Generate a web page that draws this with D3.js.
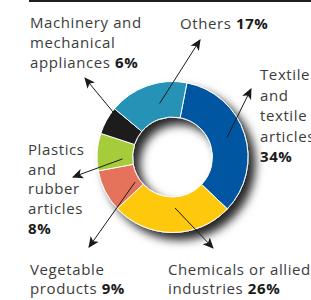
<!DOCTYPE html>
<html>
<head>
<meta charset="utf-8">
<script src="https://cdn.jsdelivr.net/npm/d3@7"></script>
<style>
  body { margin: 0; background: #fff; }
  svg { display: block; font-family: "Open Sans", sans-serif; }
</style>
</head>
<body>
<svg id="chart" width="311" height="300"></svg>
<script>
// Exports by product group, share in percent (clockwise from ~11° past top)
const categories = ["Textile and textile articles", "Chemicals or allied industries", "Vegetable products",
                    "Plastics and rubber articles", "Machinery and mechanical appliances", "Others"];
const shares = [34, 26, 9, 8, 6, 17];
const colors = ["#0256a0", "#fec80f", "#e5735c", "#a6cb3a", "#1e1c1d", "#2792b5"];

// label text lines; null = percent on its own line
const labelLines = [
    ["Textile", "and", "textile", "articles", null],
    ["Chemicals or allied", "industries "],
    ["Vegetable", "products "],
    ["Plastics", "and", "rubber", "articles", null],
    ["Machinery and", "mechanical", "appliances "],
    ["Others "]
];

// layout: label anchor, arrow start (angle offset in slice, radius), arrow tip
const layout = [
    { x: 260, y: 80, lh: 20.5, a: -2, r: 58, tip: [251, 89] },
    { x: 168, y: 275, lh: 19, a: -3, r: 51, tip: [213, 248] },
    { x: 30, y: 275, lh: 19, a: -7, r: 45, tip: [89, 247] },
    { x: 28, y: 155, lh: 19.7, a: -6, r: 50, tip: [73, 177] },
    { x: 30, y: 28, lh: 20, a: 8, r: 74, tip: [85, 78] },
    { x: 180, y: 29, lh: 20, a: 6, r: 55, tip: [200, 40] }
];

const svg = d3.select("#chart");
const cx = 172.5, cy = 157, outerR = 75.5, innerR = 40;
const startAngle = 11 * Math.PI / 180;

// top rule
svg.append("rect").attr("x", 29).attr("y", 0).attr("width", 282).attr("height", 2).attr("fill", "#231f20");

const defs = svg.append("defs");

// drop shadow for the ring
const filter = defs.append("filter").attr("id", "shadow")
    .attr("x", "-30%").attr("y", "-30%").attr("width", "170%").attr("height", "170%");
filter.append("feGaussianBlur").attr("in", "SourceAlpha").attr("stdDeviation", 5).attr("result", "blur");
filter.append("feOffset").attr("in", "blur").attr("dx", 7).attr("dy", 7).attr("result", "off");
filter.append("feFlood").attr("flood-color", "#000").attr("flood-opacity", 0.85);
filter.append("feComposite").attr("in2", "off").attr("operator", "in").attr("result", "sh");
const merge = filter.append("feMerge");
merge.append("feMergeNode").attr("in", "sh");
merge.append("feMergeNode").attr("in", "SourceGraphic");

// arrowhead
defs.append("marker").attr("id", "arrow")
    .attr("viewBox", "0 0 10 10").attr("refX", 9).attr("refY", 5)
    .attr("markerWidth", 11).attr("markerHeight", 11)
    .attr("markerUnits", "userSpaceOnUse")
    .attr("orient", "auto")
    .append("path").attr("d", "M0,0.5 L10,5 L0,9.5 L2.5,5 Z").attr("fill", "#1a1a1a");

const pie = d3.pie().sort(null).value(d => d)
    .startAngle(startAngle).endAngle(startAngle + 2 * Math.PI);
const arcs = pie(shares);
const arc = d3.arc().innerRadius(innerR).outerRadius(outerR);

const ring = svg.append("g").attr("transform", `translate(${cx},${cy})`);
ring.append("g").attr("filter", "url(#shadow)")
    .selectAll("path")
    .data(arcs)
    .join("path")
    .attr("d", arc)
    .attr("fill", (d, i) => colors[i])
    .attr("stroke", "#fff")
    .attr("stroke-width", 1);

// arrows
const toRad = Math.PI / 180;
svg.append("g").selectAll("line")
    .data(arcs)
    .join("line")
    .each(function(d, i) {
        const L = layout[i];
        const ang = (d.startAngle + d.endAngle) / 2 + L.a * toRad;
        d3.select(this)
            .attr("x1", cx + L.r * Math.sin(ang))
            .attr("y1", cy - L.r * Math.cos(ang))
            .attr("x2", L.tip[0]).attr("y2", L.tip[1]);
    })
    .attr("stroke", "#1a1a1a")
    .attr("stroke-width", 1)
    .attr("marker-end", "url(#arrow)");

// labels
const labels = svg.append("g").attr("font-size", "15px").attr("letter-spacing", "0.6px");
labelLines.forEach((lines, i) => {
    const L = layout[i];
    const t = labels.append("text").attr("x", L.x).attr("y", L.y).attr("fill", "#3c3c3c");
    const pct = d3.format(".0f")(shares[i]) + "%";
    lines.forEach((ln, j) => {
        const dy = j === 0 ? 0 : L.lh;
        if (ln === null) {
            t.append("tspan").attr("x", L.x).attr("dy", dy)
                .attr("font-weight", 700).attr("fill", "#1a1a1a").text(pct);
            return;
        }
        t.append("tspan").attr("x", L.x).attr("dy", dy).text(ln);
        if (j === lines.length - 1) {
            t.append("tspan").attr("font-weight", 700).attr("fill", "#1a1a1a").text(pct);
        }
    });
});
</script>
</body>
</html>
